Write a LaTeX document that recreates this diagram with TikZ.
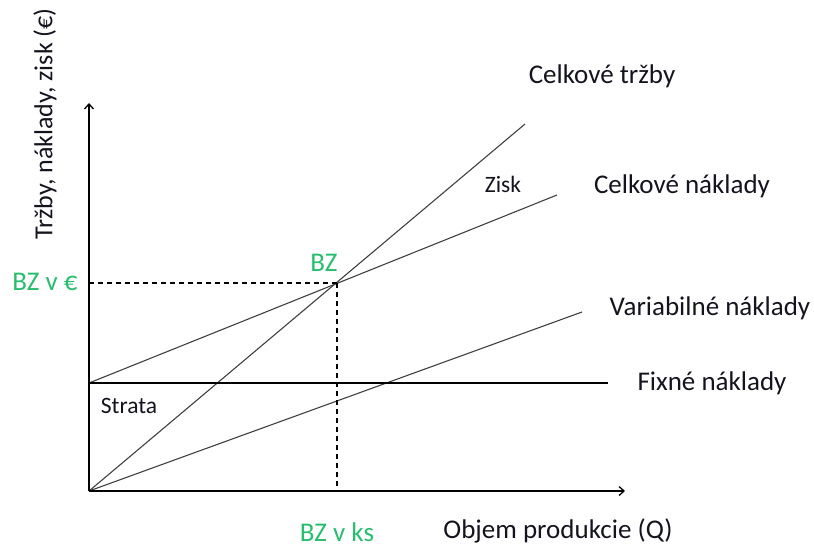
\documentclass[tikz,border=0pt]{standalone}
\usepackage{fontspec}
\setmainfont{Carlito}
\usetikzlibrary{arrows.meta}
\definecolor{bzgreen}{RGB}{40,190,110}
\definecolor{txt}{RGB}{20,20,30}
\tikzset{
  lbl/.style={font=\fontsize{27}{29}\selectfont, text=txt, inner sep=0pt},
  glbl/.style={font=\fontsize{27}{29}\selectfont, text=bzgreen, inner sep=0pt},
  slbl/.style={font=\fontsize{23.5}{25}\selectfont, text=txt, inner sep=0pt},
  ylbl/.style={font=\fontsize{26}{28}\selectfont, text=txt, inner sep=0pt, rotate=90},
  axis/.style={line width=1.5pt, -{Straight Barb[length=5pt,width=9pt,line width=1.3pt]}},
  curve/.style={line width=1.1pt, draw=black!75},
  guide/.style={line width=1.1pt, dashed, dash pattern=on 5pt off 4pt}
}
\begin{document}
\begin{tikzpicture}[x=1pt,y=-1pt]
\useasboundingbox (0,0) rectangle (814,547);
\coordinate (O) at (89,491);
\coordinate (Ytop) at (89,103);
\coordinate (Xend) at (625,491);
\coordinate (F0) at (89,383);
\coordinate (F1) at (608,383);
\coordinate (R1) at (525,124);
\coordinate (C1) at (557,195);
\coordinate (V1) at (582,312);
\coordinate (BZ) at (337,283);
\coordinate (BZy) at (89,283);
\coordinate (BZx) at (337,491);
\draw[curve] (O) -- (R1);
\draw[curve] (F0) -- (C1);
\draw[curve] (O) -- (V1);
\draw[line width=1.3pt] (F0) -- (F1);
\draw[guide] (BZy) -- (BZ);
\draw[guide] (BZ) -- (BZx);
\draw[axis] (O) -- (Ytop);
\draw[axis] (O) -- (Xend);
\node[lbl] (tR) at (602,76) {Celkové tržby};
\node[lbl] (tC) at (682,186) {Celkové náklady};
\node[lbl] (tV) at (710,308) {Variabilné náklady};
\node[lbl] (tF) at (712,383) {Fixné náklady};
\node[slbl] (tZ) at (503,184) {Zisk};
\node[slbl] (tS) at (129,406) {Strata};
\node[glbl] (tBZ) at (324,263) {BZ};
\node[glbl] (tBZe) at (45,282) {BZ v €};
\node[glbl] (tBZks) at (337,532) {BZ v ks};
\node[lbl] (tQ) at (558,531) {Objem produkcie (Q)};
\node[ylbl] (tY) at (45,124) {Tržby, náklady, zisk (€)};
\end{tikzpicture}
\end{document}
